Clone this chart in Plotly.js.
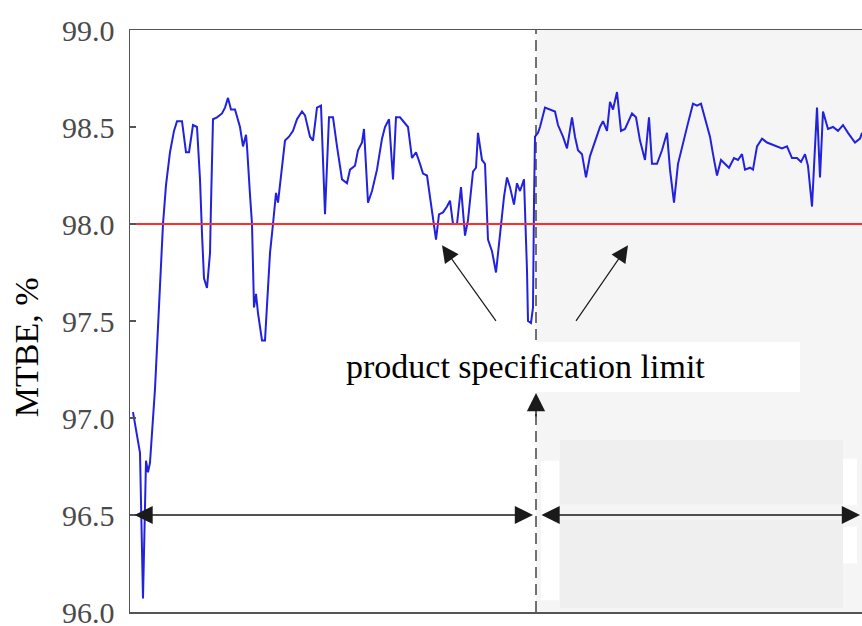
<!DOCTYPE html>
<html>
<head>
<meta charset="utf-8">
<script src="https://cdn.plot.ly/plotly-3.0.1.min.js"></script>
<style>html,body{margin:0;padding:0;background:#fff;}#chart{width:862px;height:626px;}</style>
</head>
<body>
<div id="chart"></div>
<script>
// sample index (arbitrary time units)
const time = [3,10,13,16,18,20,25,30,33,36,40,44,47,52,55,56,59,61,63,67,70,72,74,77,80,81,83,87,92,95,98,101,105,110,113,116,117,120,122,124,126,128,132,135,140,143,146,148,152,155,159,163,167,172,175,180,183,187,191,195,199,203,207,212,217,220,225,228,232,234,238,242,247,252,255,259,263,266,270,275,278,282,286,290,293,297,300,303,306,309,313,317,320,323,327,331,335,338,343,346,348,352,355,358,362,366,370,374,377,380,384,387,390,394,397,398,401,403,404,405,408,410,415,420,425,428,433,437,442,445,448,452,456,460,465,470,473,477,480,483,487,491,495,502,506,510,515,519,522,527,532,537,540,544,548,553,558,563,567,571,575,580,583,587,591,595,599,604,608,612,615,620,623,627,632,637,642,647,652,657,662,667,671,675,678,682,687,690,693,698,703,708,713,718,725,730,732];
// MTBE purity, %
const mtbe = [97.03,96.82,96.07,96.78,96.72,96.77,97.15,97.70,98.00,98.20,98.37,98.48,98.53,98.53,98.42,98.37,98.37,98.45,98.51,98.50,98.23,97.95,97.72,97.67,97.85,98.10,98.54,98.55,98.57,98.60,98.65,98.59,98.59,98.50,98.40,98.46,98.40,98.15,98.00,97.57,97.64,97.54,97.40,97.40,97.85,98.00,98.16,98.11,98.31,98.43,98.45,98.48,98.54,98.58,98.56,98.45,98.43,98.60,98.61,98.05,98.55,98.55,98.40,98.23,98.21,98.28,98.30,98.38,98.42,98.49,98.11,98.17,98.28,98.44,98.50,98.54,98.23,98.55,98.55,98.52,98.50,98.34,98.37,98.31,98.26,98.25,98.14,98.03,97.92,98.05,98.06,98.09,98.12,98.00,98.00,98.19,97.94,98.02,98.27,98.29,98.47,98.33,98.31,97.92,97.86,97.75,97.93,98.14,98.24,98.19,98.10,98.21,98.17,98.23,97.76,97.50,97.49,97.57,98.11,98.45,98.47,98.50,98.60,98.59,98.58,98.51,98.45,98.39,98.55,98.45,98.38,98.36,98.24,98.35,98.43,98.50,98.53,98.48,98.63,98.59,98.68,98.48,98.49,98.57,98.55,98.43,98.33,98.55,98.31,98.31,98.38,98.47,98.28,98.11,98.31,98.42,98.52,98.62,98.61,98.62,98.55,98.45,98.36,98.25,98.33,98.31,98.29,98.34,98.33,98.36,98.28,98.29,98.28,98.40,98.44,98.42,98.41,98.40,98.39,98.40,98.34,98.34,98.32,98.36,98.30,98.09,98.60,98.24,98.58,98.49,98.50,98.48,98.51,98.47,98.42,98.44,98.47];
const specLimit = 98.0;
const specX = [0, 732];
const switchTime = 406;
const yTicks = [96.0, 96.5, 97.0, 97.5, 98.0, 98.5, 99.0];
const yTickText = ['96.0','96.5','97.0','97.5','98.0','98.5','99.0'];
const annotationText = 'product specification limit';
const yTitle = 'MTBE, %';

const traces = [
  {x: time, y: mtbe, type: 'scatter', mode: 'lines', line: {color: '#2222dd', width: 2}, hoverinfo: 'skip'},
  {x: specX, y: [specLimit, specLimit], type: 'scatter', mode: 'lines', line: {color: '#ff2e2e', width: 1.8}, hoverinfo: 'skip'}
];

const arrowBase = {text: '', showarrow: true, xref: 'x', yref: 'y', axref: 'x', ayref: 'y', arrowcolor: '#1a1a1a', arrowwidth: 1.4, arrowhead: 2, arrowsize: 2.6};

const layout = {
  width: 862, height: 626,
  margin: {l: 130, r: 0, t: 30, b: 14},
  paper_bgcolor: '#ffffff', plot_bgcolor: '#ffffff',
  showlegend: false,
  xaxis: {range: [0, 732], showline: true, linecolor: '#555', linewidth: 1.5, mirror: true, showticklabels: false, ticks: '', showgrid: false, zeroline: false},
  yaxis: {range: [96, 99], tickvals: yTicks, ticktext: yTickText, ticks: 'inside', ticklen: 6, tickcolor: '#555', tickwidth: 1.2,
    showline: true, linecolor: '#555', linewidth: 1.5, showgrid: false, zeroline: false, ticklabelstandoff: 8,
    ticklabeloverflow: 'allow',
    tickfont: {family: 'Liberation Serif', size: 30, color: '#4a4a4a'}},
  shapes: [
    {type: 'rect', xref: 'x', yref: 'paper', x0: switchTime, x1: 732, y0: 0, y1: 1, fillcolor: '#f5f5f5', line: {width: 0}, layer: 'below'},
    {type: 'rect', xref: 'x', yref: 'y', x0: 430, x1: 713, y0: 96.555, y1: 96.887, fillcolor: '#efefef', line: {width: 0}, layer: 'below'},
    {type: 'rect', xref: 'x', yref: 'y', x0: 430, x1: 713, y0: 96.02, y1: 96.475, fillcolor: '#efefef', line: {width: 0}, layer: 'below'},
    {type: 'rect', xref: 'x', yref: 'y', x0: 411, x1: 429, y0: 96.06, y1: 96.78, fillcolor: '#ffffff', line: {width: 0}, layer: 'below'},
    {type: 'rect', xref: 'x', yref: 'y', x0: 713, x1: 727, y0: 96.55, y1: 96.79, fillcolor: '#ffffff', line: {width: 0}, layer: 'below'},
    {type: 'rect', xref: 'x', yref: 'y', x0: 713, x1: 727, y0: 96.25, y1: 96.44, fillcolor: '#ffffff', line: {width: 0}, layer: 'below'},
    {type: 'line', xref: 'x', yref: 'paper', x0: switchTime, x1: switchTime, y0: 0, y1: 1, line: {color: '#444', width: 1.5, dash: '11px,6px'}, layer: 'below'},
    {type: 'rect', xref: 'x', yref: 'y', x0: 205, x1: 670, y0: 97.134, y1: 97.392, fillcolor: '#ffffff', line: {width: 0}, layer: 'below'}
  ],
  annotations: [
    Object.assign({}, arrowBase, {x: 403, y: 96.5, ax: 3, ay: 96.5, arrowside: 'end+start'}),
    Object.assign({}, arrowBase, {x: 730, y: 96.5, ax: 410, ay: 96.5, arrowside: 'end+start'}),
    Object.assign({}, arrowBase, {x: switchTime, y: 97.129, ax: switchTime, ay: 97.0}),
    Object.assign({}, arrowBase, {x: 312, y: 97.89, ax: 367, ay: 97.493, arrowwidth: 1.2, arrowsize: 2.8}),
    Object.assign({}, arrowBase, {x: 498, y: 97.89, ax: 445, ay: 97.493, arrowwidth: 1.2, arrowsize: 2.8}),
    {text: annotationText, showarrow: false, xref: 'x', yref: 'y', x: 395, y: 97.263, xanchor: 'center', yanchor: 'middle',
     font: {family: 'Liberation Serif', size: 34, color: '#000'}},
    {text: yTitle, showarrow: false, xref: 'paper', yref: 'paper', x: -0.142, y: 0.455, xanchor: 'center', yanchor: 'middle',
     textangle: -90, font: {family: 'Liberation Serif', size: 34, color: '#000'}}
  ]
};

Plotly.newPlot('chart', traces, layout, {displayModeBar: false, staticPlot: true});
</script>
</body>
</html>
